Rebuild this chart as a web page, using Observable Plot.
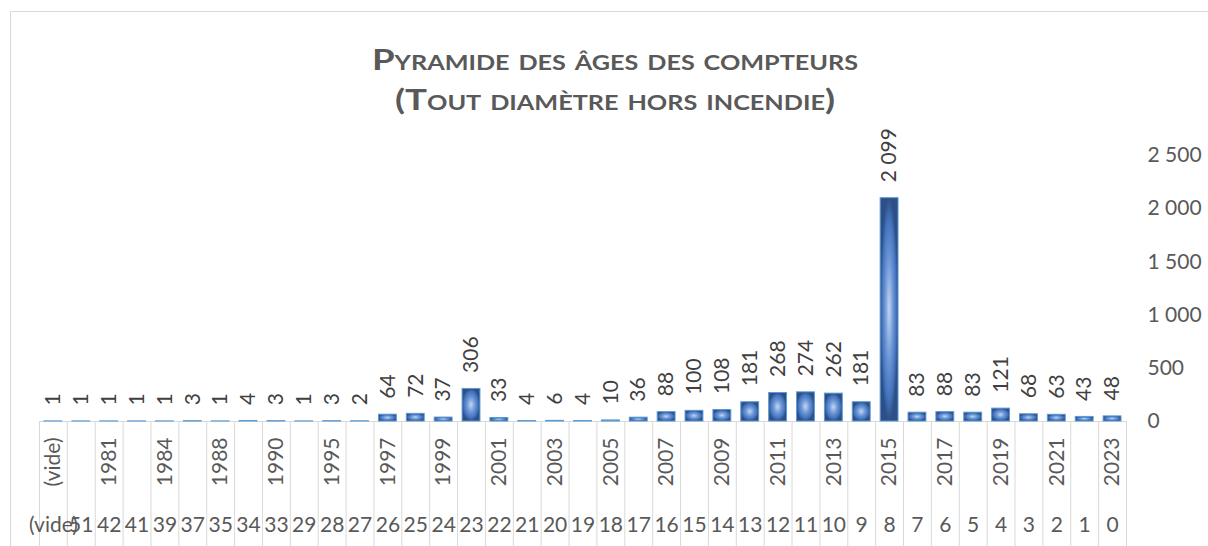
<!DOCTYPE html>
<html><head><meta charset="utf-8">
<script src="https://cdn.jsdelivr.net/npm/d3@7"></script>
<script src="https://cdn.jsdelivr.net/npm/@observablehq/plot@0.6"></script>
<style>
body{margin:0;background:#fff;}
#wrap{position:relative;width:1208px;height:546px;overflow:hidden;}
#border{position:absolute;left:10px;top:11px;width:1300px;height:600px;border-left:1px solid #d9d9d9;border-top:1px solid #d9d9d9;}
#wrap svg{position:absolute;left:0;top:0;}
</style></head><body><div id="wrap"><div id="border"></div></div>
<script>
const ages = ["(vide)","51","42","41","39","37","35","34","33","29","28","27","26","25","24","23","22","21","20","19","18","17","16","15","14","13","12","11","10","9","8","7","6","5","4","3","2","1","0"];
const years = ["(vide)","1972","1981","1982","1984","1986","1988","1989","1990","1994","1995","1996","1997","1998","1999","2000","2001","2002","2003","2004","2005","2006","2007","2008","2009","2010","2011","2012","2013","2014","2015","2016","2017","2018","2019","2020","2021","2022","2023"];
const counts = [1,1,1,1,1,3,1,4,3,1,3,2,64,72,37,306,33,4,6,4,10,36,88,100,108,181,268,274,262,181,2099,83,88,83,121,68,63,43,48];
const yTicks = [0,500,1000,1500,2000,2500];
const titleLines = ["Pyramide des âges des compteurs","(Tout diamètre hors incendie)"];

const rows = ages.map((a,i)=>({age:a, year:years[i], count:counts[i]}));
const fmt = v => d3.format(",")(v).replace(/,/g,"\u00a0");

const W = 1208, H = 546, mL = 39, mR = 82, mT = 155, mB = 125;
const bw = (W - mL - mR) / ages.length;

const chart = Plot.plot({
  width: W, height: H,
  marginLeft: mL, marginRight: mR, marginTop: mT, marginBottom: mB,
  style: {fontFamily: "Lato, 'Open Sans', sans-serif", color: "#595959", background: "transparent"},
  x: {type: "band", domain: ages, padding: 0, axis: null, label: null},
  y: {domain: [0, 2500], axis: null, label: null},
  marks: [
    Plot.axisX({ticks: ages, tickSize: 125, tickFormat: () => "", label: null, stroke: "#d9d9d9", dx: -bw/2}),
    Plot.axisX({ticks: [ages[ages.length-1]], tickSize: 125, tickFormat: () => "", label: null, stroke: "#d9d9d9", dx: bw/2}),
    Plot.ruleY([0], {stroke: "#d9d9d9", strokeWidth: 1.2}),
    Plot.barY(rows, {x: "age", y: "count", fill: "url(#barGrad)", stroke: "#5b9bd5", strokeWidth: 1, insetLeft: 5, insetRight: 5}),
    Plot.text(rows, {x: "age", y: "count", text: d => fmt(d.count), rotate: -90, textAnchor: "start", lineAnchor: "middle", dy: -16, fontSize: 21, fill: "#404040"}),
    Plot.text(rows.filter((d,i) => i % 2 === 0), {x: "age", text: "year", frameAnchor: "bottom", rotate: -90, textAnchor: "end", lineAnchor: "middle", dy: 16, fontSize: 21, fill: "#595959"}),
    Plot.text(rows, {x: "age", text: "age", frameAnchor: "bottom", lineAnchor: "middle", dy: 104, fontSize: 21, fill: "#595959"}),
    Plot.axisY({anchor: "right", ticks: yTicks, tickSize: 0, tickPadding: 21, tickFormat: fmt, label: null, fontSize: 21, textAnchor: "start"})
  ]
});

const svg = d3.select(chart);
svg.insert("defs", ":first-child").html(`
  <radialGradient id="barGrad" cx="0.5" cy="0.5" r="0.5">
    <stop offset="0" stop-color="#c3d5f0"/>
    <stop offset="0.45" stop-color="#6d97d6"/>
    <stop offset="0.8" stop-color="#4373bd"/>
    <stop offset="1" stop-color="#2d4f85"/>
  </radialGradient>`);
[70, 110].forEach((y, i) => {
  svg.append("text")
    .attr("x", 615).attr("y", y)
    .attr("text-anchor", "middle")
    .attr("font-family", "Lato, 'Open Sans', sans-serif")
    .attr("font-weight", "bold")
    .attr("font-size", 29)
    .attr("font-variant", "small-caps")
    .attr("fill", "#595959")
    .attr("textLength", [486, 440][i])
    .attr("lengthAdjust", "spacingAndGlyphs")
    .text(titleLines[i]);
});
document.getElementById("wrap").appendChild(chart);
</script>
</body></html>
